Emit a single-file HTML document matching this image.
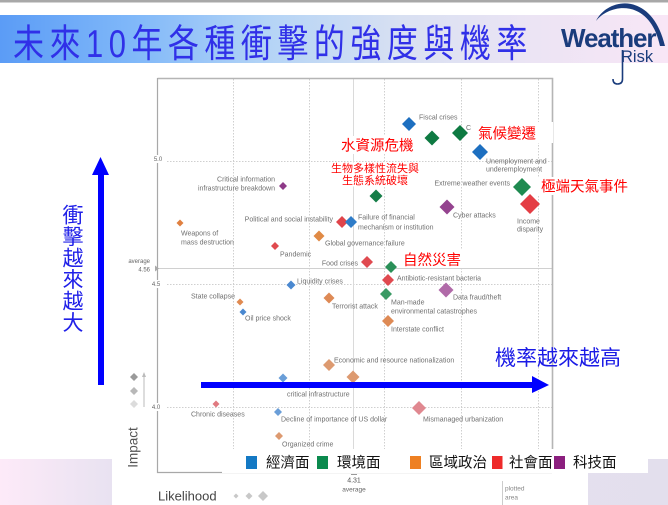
<!DOCTYPE html>
<html><head><meta charset="utf-8">
<style>
html,body{margin:0;padding:0;background:#fff;}
body{width:668px;height:505px;overflow:hidden;position:relative;}
svg{position:absolute;left:0;top:0;}
.g{font-family:"Liberation Sans",sans-serif;font-size:7px;fill:#707070;}
.ax{font-family:"Liberation Sans",sans-serif;font-size:6px;fill:#666;}
.cj{font-family:"Liberation Sans","Noto Sans CJK TC",sans-serif;}
</style></head><body>
<svg width="668" height="505" viewBox="0 0 668 505" xmlns="http://www.w3.org/2000/svg">
<defs>
<linearGradient id="ban" x1="0" x2="1" y1="0" y2="0">
<stop offset="0" stop-color="#5b9cf6"/>
<stop offset="0.2" stop-color="#80b8f9"/>
<stop offset="0.4" stop-color="#b4d4f6"/>
<stop offset="0.6" stop-color="#d8e0f2"/>
<stop offset="0.8" stop-color="#ece4f4"/>
<stop offset="1" stop-color="#f8e6f6"/>
</linearGradient>
<linearGradient id="bot" x1="0" x2="1" y1="0" y2="0">
<stop offset="0" stop-color="#fdeaf8"/>
<stop offset="0.17" stop-color="#e8e2f1"/>
<stop offset="1" stop-color="#e3dfed"/>
</linearGradient>
</defs>

<!-- top line & banner -->
<rect x="0" y="0" width="668" height="2.5" fill="#a8a8a8"/>
<rect x="0" y="15" width="668" height="48" fill="url(#ban)"/>
<text class="cj" x="13" y="45.6" transform="scale(1,1.25)" font-size="31" letter-spacing="5.5" fill="#3030e8">未來10年各種衝擊的強度與機率</text>

<!-- logo -->
<path d="M596,21 C608,-3 652,-9 665,46 L660,46 C650,-2 610,3 596,21 Z" fill="#1a3c7c"/>
<text x="561" y="47" font-family="Liberation Sans, sans-serif" font-weight="bold" font-size="26" letter-spacing="-1.1" fill="#1a3c7c">Weather</text>
<text x="621" y="62" font-family="Liberation Sans, sans-serif" font-size="16.5" fill="#1a3c7c">Risk</text>
<path d="M622.5,50 V79 Q622.5,84 617.5,84 Q613,84 613,79" stroke="#1a3c7c" stroke-width="1.6" fill="none"/>

<!-- bottom band -->
<rect x="0" y="459" width="668" height="46" fill="url(#bot)"/>
<rect x="112" y="459" width="476" height="46" fill="#fff"/>

<!-- grid -->
<g stroke="#cfcfcf" stroke-width="1" stroke-dasharray="1.5 1.5" fill="none">
<line x1="233.5" y1="79" x2="233.5" y2="472"/>
<line x1="309.5" y1="79" x2="309.5" y2="472"/>
<line x1="384.5" y1="79" x2="384.5" y2="472"/>
<line x1="461.5" y1="79" x2="461.5" y2="472"/>
<line x1="538.5" y1="79" x2="538.5" y2="472"/>
<line x1="167" y1="161.5" x2="552" y2="161.5"/>
<line x1="167" y1="284.5" x2="552" y2="284.5"/>
<line x1="167" y1="407.5" x2="552" y2="407.5"/>
</g>
<line x1="353.5" y1="79" x2="353.5" y2="472" stroke="#dadada"/>
<line x1="157" y1="268.5" x2="552" y2="268.5" stroke="#d0d0d0"/>
<path d="M157.5 78.5 H552.5 V472" stroke="#b5b5b5" stroke-width="1.6" fill="none"/>
<path d="M157.5 78 V472.5 H552" stroke="#a8a8a8" stroke-width="1.2" fill="none"/>

<!-- axis labels -->
<rect x="152" y="155" width="12" height="8" fill="#fff"/>
<text class="ax" x="158" y="161" text-anchor="middle">5.0</text>
<rect x="151" y="280" width="12" height="8" fill="#fff"/>
<text class="ax" x="156" y="286" text-anchor="middle">4.5</text>
<rect x="151" y="403" width="12" height="8" fill="#fff"/>
<text class="ax" x="156" y="409" text-anchor="middle">4.0</text>
<text class="ax" x="150" y="263" text-anchor="end" fill="#555">average</text>
<text class="ax" x="150" y="271.5" text-anchor="end" fill="#444" font-size="6.5">4.56</text>
<polygon points="155,265.5 159,268.5 155,271.5" fill="#aaa"/>

<!-- size legend left -->
<polygon points="134,373 138,377 134,381 130,377" fill="#9a9a9a"/>
<polygon points="134,387 138,391 134,395 130,391" fill="#b8b8b8"/>
<polygon points="134,400 138,404 134,408 130,404" fill="#dcdcdc"/>
<line x1="144" y1="375" x2="144" y2="407" stroke="#bbb" stroke-width="1"/>
<polygon points="142,377 146,377 144,372" fill="#bbb"/>

<!-- gray labels -->
<g class="g">
<text x="419" y="119.5">Fiscal crises</text>
<text x="466" y="130">C</text>
<text x="486" y="163.5">Unemployment and</text>
<text x="486" y="171.5">underemployment</text>
<text x="510" y="185.5" text-anchor="end">Extreme weather events</text>
<text x="517" y="223.5">Income</text>
<text x="517" y="231.5">disparity</text>
<text x="453" y="217.5">Cyber attacks</text>
<text x="275" y="181.5" text-anchor="end">Critical information</text>
<text x="275" y="190.5" text-anchor="end">infrastructure breakdown</text>
<text x="333" y="221.5" text-anchor="end">Political and social instability</text>
<text x="358" y="219.5">Failure of financial</text>
<text x="358" y="229.5">mechanism or institution</text>
<text x="181" y="235.5">Weapons of</text>
<text x="181" y="244.5">mass destruction</text>
<text x="325" y="245.5">Global governance failure</text>
<text x="280" y="256.5">Pandemic</text>
<text x="358" y="265.5" text-anchor="end">Food crises</text>
<text x="397" y="280.5">Antibiotic-resistant bacteria</text>
<text x="391" y="304.5">Man-made</text>
<text x="391" y="313.5">environmental catastrophes</text>
<text x="453" y="299.5">Data fraud/theft</text>
<text x="391" y="331.5">Interstate conflict</text>
<text x="297" y="283.5">Liquidity crises</text>
<text x="235" y="298.5" text-anchor="end">State collapse</text>
<text x="245" y="320.5">Oil price shock</text>
<text x="332" y="308.5">Terrorist attack</text>
<text x="334" y="362.5">Economic and resource nationalization</text>
<text x="287" y="396.5">critical infrastructure</text>
<text x="191" y="416.5">Chronic diseases</text>
<text x="281" y="421.5">Decline of importance of US dollar</text>
<text x="282" y="446.5">Organized crime</text>
<text x="423" y="421.5">Mismanaged urbanization</text>
</g>

<!-- diamonds -->
<polygon points="409,117 416,124 409,131 402,124" fill="#1d6fc0"/>
<polygon points="432,130.5 439.5,138 432,145.5 424.5,138" fill="#0e7a42"/>
<polygon points="460,125 468,133 460,141 452,133" fill="#0e7a42"/>
<polygon points="480,144 488,152 480,160 472,152" fill="#1d6fc0"/>
<polygon points="522,178 531,187 522,196 513,187" fill="#1f8a50"/>
<polygon points="530,194 540,204 530,214 520,204" fill="#e43d44"/>
<polygon points="447,199.5 454.5,207 447,214.5 439.5,207" fill="#94438f"/>
<polygon points="283,182 287,186 283,190 279,186" fill="#8e3a88"/>
<polygon points="376,189.5 382.5,196 376,202.5 369.5,196" fill="#167e48"/>
<polygon points="342,216 348,222 342,228 336,222" fill="#e0444a"/>
<polygon points="351,216 357,222 351,228 345,222" fill="#2f7cc8"/>
<polygon points="180,219.5 183.5,223 180,226.5 176.5,223" fill="#e08040"/>
<polygon points="319,230.5 324.5,236 319,241.5 313.5,236" fill="#e08a45"/>
<polygon points="275,242 279,246 275,250 271,246" fill="#e04a4e"/>
<polygon points="367,256 373,262 367,268 361,262" fill="#e04a50"/>
<polygon points="391,261 397,267 391,273 385,267" fill="#2a9058"/>
<polygon points="388,274 394,280 388,286 382,280" fill="#e04a50"/>
<polygon points="386,288 392,294 386,300 380,294" fill="#3a9a64"/>
<polygon points="446,282.5 453.5,290 446,297.5 438.5,290" fill="#b06aa8"/>
<polygon points="388,315 394,321 388,327 382,321" fill="#de8a55"/>
<polygon points="291,280.5 295.5,285 291,289.5 286.5,285" fill="#4a88d0"/>
<polygon points="240,298.5 243.5,302 240,305.5 236.5,302" fill="#e08a50"/>
<polygon points="243,308.5 246.5,312 243,315.5 239.5,312" fill="#4a88d0"/>
<polygon points="329,292.5 334.5,298 329,303.5 323.5,298" fill="#de8a55"/>
<polygon points="329,359 335,365 329,371 323,365" fill="#dd9a70"/>
<polygon points="283,373.5 287.5,378 283,382.5 278.5,378" fill="#6a9ed8"/>
<polygon points="353,370.5 359.5,377 353,383.5 346.5,377" fill="#dd9a70"/>
<polygon points="216,400.5 219.5,404 216,407.5 212.5,404" fill="#e07a80"/>
<polygon points="278,408 282,412 278,416 274,412" fill="#6a9ed8"/>
<polygon points="279,432 283,436 279,440 275,436" fill="#dd9a70"/>
<polygon points="419,401 426,408 419,415 412,408" fill="#e08890"/>

<!-- red annotations -->
<rect x="338" y="136" width="78" height="18" fill="#fff"/>
<text class="cj" x="341" y="150.5" font-size="14.5" fill="#ff0000">水資源危機</text>
<rect x="473" y="122" width="80" height="21" fill="#fff"/>
<text class="cj" x="478" y="138.5" font-size="14.5" fill="#ff0000">氣候變遷</text>
<rect x="538" y="177" width="92" height="18" fill="#fff"/>
<text class="cj" x="541" y="191.5" font-size="14.5" fill="#ff0000">極端天氣事件</text>
<rect x="399" y="250" width="71" height="17" fill="#fff"/>
<text class="cj" x="403" y="265" font-size="14.5" fill="#ff0000">自然災害</text>
<rect x="329" y="162.5" width="91" height="24" fill="#fff"/>
<text class="cj" x="331" y="172" font-size="11" fill="#ff0000">生物多樣性流失與</text>
<text class="cj" x="342" y="184" font-size="11" fill="#ff0000">生態系統破壞</text>

<!-- legend -->
<rect x="222" y="449" width="426" height="24" fill="#fff"/>
<rect x="246" y="456" width="11" height="13" fill="#1479c4"/>
<text class="cj" x="266" y="467.5" font-size="14.5" fill="#111">經濟面</text>
<rect x="317" y="456" width="11" height="13" fill="#0b8a4e"/>
<text class="cj" x="337" y="467.5" font-size="14.5" fill="#111">環境面</text>
<rect x="410" y="456" width="11" height="13" fill="#ee8022"/>
<text class="cj" x="429" y="467.5" font-size="14.5" fill="#111">區域政治</text>
<rect x="492" y="456" width="10.5" height="13" fill="#ee2a2a"/>
<text class="cj" x="509" y="467.5" font-size="14.5" fill="#111">社會面</text>
<rect x="554" y="456" width="11" height="13" fill="#8b1f7e"/>
<text class="cj" x="573" y="467.5" font-size="14.5" fill="#111">科技面</text>

<!-- bottom axis texts -->
<line x1="351" y1="474.5" x2="357" y2="474.5" stroke="#999" stroke-width="1"/>
<text x="354" y="482.5" text-anchor="middle" font-family="Liberation Sans, sans-serif" font-size="7" fill="#555">4.31</text>
<text x="354" y="491.5" text-anchor="middle" font-family="Liberation Sans, sans-serif" font-size="6.5" fill="#666">average</text>
<line x1="502.5" y1="481" x2="502.5" y2="505" stroke="#ccc" stroke-width="1"/>
<text x="505" y="490.5" font-family="Liberation Sans, sans-serif" font-size="6.5" fill="#888">plotted</text>
<text x="505" y="499.5" font-family="Liberation Sans, sans-serif" font-size="6.5" fill="#888">area</text>
<text transform="translate(137.5,447.5) rotate(-90)" text-anchor="middle" font-family="Liberation Sans, sans-serif" font-size="13.5" fill="#555">Impact</text>
<text x="158" y="500.5" font-family="Liberation Sans, sans-serif" font-size="13" fill="#444">Likelihood</text>
<polygon points="236,493.5 238.5,496 236,498.5 233.5,496" fill="#c8c8c8"/>
<polygon points="249,492.5 252.5,496 249,499.5 245.5,496" fill="#c8c8c8"/>
<polygon points="263,491 268,496 263,501 258,496" fill="#c8c8c8"/>

<!-- blue arrows -->
<rect x="98" y="174" width="6" height="211" fill="#0000ff"/>
<polygon points="92,175 109,175 100.5,157" fill="#0000ff"/>
<rect x="201" y="382" width="332" height="6" fill="#0000ff"/>
<polygon points="532,376 532,393 549,385" fill="#0000ff"/>

<!-- blue texts -->
<g class="cj" font-size="21" fill="#2020e8" text-anchor="middle">
<text x="73" y="222.7">衝</text>
<text x="73" y="244.2">擊</text>
<text x="73" y="265.7">越</text>
<text x="73" y="287.2">來</text>
<text x="73" y="308.7">越</text>
<text x="73" y="330.2">大</text>
</g>
<text class="cj" x="495" y="365" font-size="21" fill="#1a1ae6">機率越來越高</text>
</svg>
</body></html>
